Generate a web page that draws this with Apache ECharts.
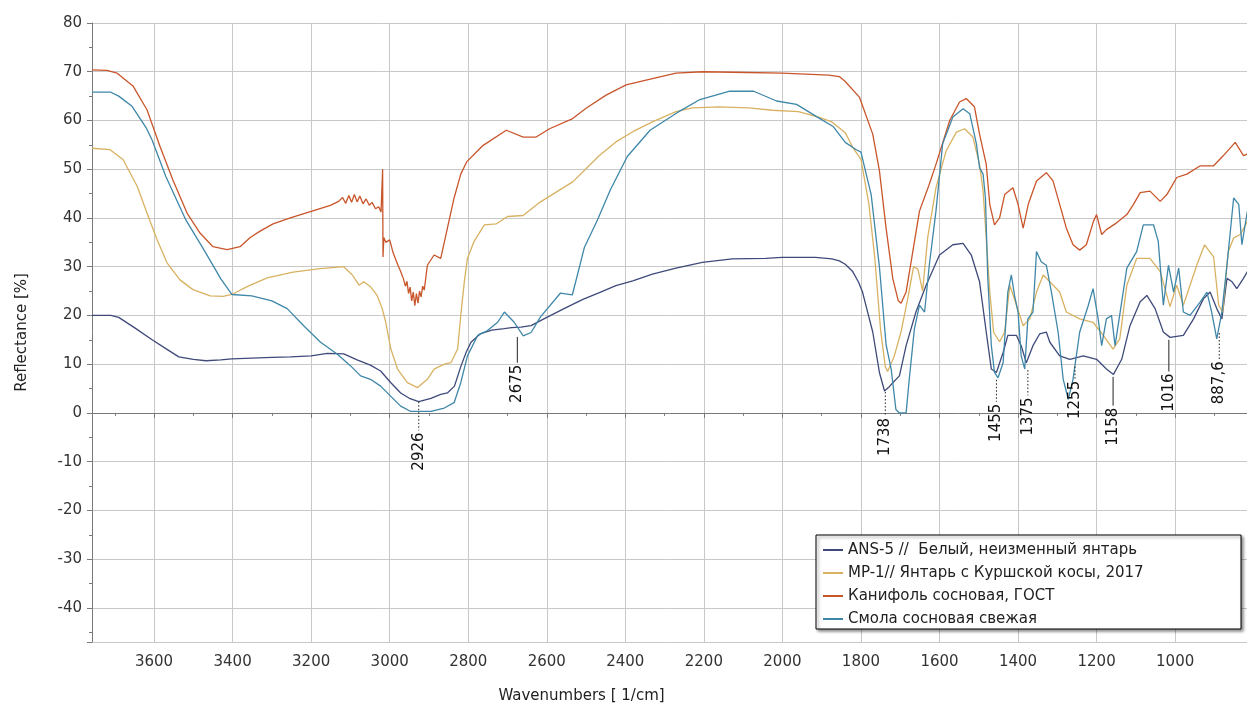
<!DOCTYPE html>
<html>
<head>
<meta charset="utf-8">
<script src="https://cdn.jsdelivr.net/npm/echarts@6/dist/echarts.min.js"></script>
<style>
  html, body { margin: 0; padding: 0; background: #fff; }
  #chart { width: 1247px; height: 709px; }
</style>
</head>
<body>
<div id="chart"></div>
<script>
// ANS-5 // Белый, неизменный янтарь
var ansWave = [3758, 3710, 3690, 3650, 3605, 3570, 3537, 3500, 3468, 3430, 3402, 3300, 3253, 3200, 3159, 3117, 3083, 3049, 3023, 2997, 2972, 2950, 2926, 2895, 2870, 2853, 2835, 2819, 2805, 2793, 2770, 2740, 2708, 2690, 2666, 2640, 2600, 2551, 2508, 2466, 2424, 2381, 2331, 2271, 2204, 2128, 2043, 2001, 1916, 1874, 1855, 1840, 1821, 1806, 1796, 1770, 1753, 1740, 1730, 1719, 1702, 1685, 1660, 1634, 1600, 1566, 1540, 1519, 1498, 1481, 1468, 1455, 1438, 1426, 1404, 1392, 1379, 1362, 1345, 1328, 1319, 1294, 1268, 1234, 1200, 1175, 1157, 1136, 1115, 1089, 1072, 1051, 1030, 1013, 979, 953, 928, 911, 894, 881, 868, 855, 843, 826, 816];
var ansVal = [20.0, 20.0, 19.6, 17.5, 15.0, 13.2, 11.5, 11.0, 10.7, 10.9, 11.1, 11.4, 11.5, 11.7, 12.2, 12.1, 10.9, 9.8, 8.6, 6.2, 4.1, 3.0, 2.3, 3.0, 3.8, 4.1, 5.5, 9.5, 12.5, 14.5, 16.2, 17.0, 17.3, 17.5, 17.6, 17.9, 19.6, 21.6, 23.3, 24.7, 26.1, 27.1, 28.5, 29.7, 30.9, 31.6, 31.7, 31.9, 31.9, 31.6, 31.2, 30.5, 29.0, 26.8, 24.8, 16.6, 8.3, 4.5, 5.2, 6.2, 7.6, 13.8, 20.7, 26.2, 32.4, 34.5, 34.8, 32.4, 26.9, 16.6, 9.0, 8.3, 12.4, 15.9, 15.9, 13.8, 10.3, 13.8, 16.2, 16.6, 14.5, 11.7, 11.0, 11.7, 11.0, 9.0, 7.9, 11.0, 17.9, 22.8, 24.1, 21.4, 16.6, 15.5, 15.9, 19.3, 23.4, 24.8, 21.4, 19.3, 27.6, 26.9, 25.5, 27.6, 29.0];

// MP-1 // Янтарь с Куршской косы, 2017
var mpWave = [3758, 3712, 3679, 3643, 3618, 3592, 3567, 3534, 3501, 3457, 3424, 3402, 3363, 3312, 3246, 3177, 3117, 3095, 3078, 3066, 3049, 3032, 3019, 3010, 2997, 2980, 2955, 2929, 2904, 2887, 2861, 2844, 2827, 2819, 2810, 2802, 2785, 2759, 2728, 2700, 2660, 2618, 2576, 2534, 2500, 2466, 2424, 2381, 2331, 2271, 2229, 2162, 2085, 2026, 1959, 1908, 1874, 1840, 1821, 1800, 1780, 1765, 1750, 1738, 1732, 1715, 1698, 1681, 1666, 1655, 1643, 1630, 1609, 1583, 1557, 1536, 1515, 1498, 1489, 1481, 1472, 1462, 1447, 1434, 1421, 1404, 1387, 1370, 1353, 1336, 1319, 1294, 1277, 1243, 1209, 1183, 1158, 1141, 1123, 1098, 1064, 1038, 1013, 996, 979, 962, 945, 925, 902, 889, 879, 865, 851, 834, 816];
var mpVal = [54.3, 54.0, 52.0, 46.5, 41.0, 35.5, 30.8, 27.3, 25.3, 24.0, 23.9, 24.3, 25.9, 27.7, 28.9, 29.6, 30.0, 28.3, 26.2, 26.9, 25.9, 24.1, 21.4, 18.6, 13.1, 9.0, 6.2, 5.2, 6.9, 9.0, 10.0, 10.3, 13.1, 20.0, 26.9, 31.7, 35.2, 38.6, 38.8, 40.3, 40.5, 43.2, 45.3, 47.4, 50.1, 52.8, 55.6, 57.7, 59.7, 61.8, 62.6, 62.8, 62.6, 62.1, 61.8, 60.7, 59.7, 57.5, 54.5, 52.0, 43.0, 32.0, 17.0, 9.5, 8.5, 11.7, 16.6, 23.4, 30.0, 29.5, 25.0, 36.0, 46.2, 53.8, 57.6, 58.3, 56.6, 51.0, 45.5, 35.9, 24.8, 16.5, 14.6, 16.6, 26.2, 22.1, 17.9, 19.3, 24.8, 28.3, 26.9, 24.8, 20.7, 19.3, 18.6, 15.9, 13.1, 15.2, 26.2, 31.7, 31.7, 29.0, 21.8, 26.2, 22.1, 26.2, 30.3, 34.5, 32.0, 22.1, 20.7, 33.0, 35.9, 36.6, 39.3];

// Канифоль сосновая, ГОСТ
var kanWave = [3758, 3720, 3694, 3653, 3618, 3585, 3552, 3516, 3483, 3450, 3414, 3381, 3355, 3330, 3297, 3253, 3202, 3151, 3130, 3120, 3112, 3104, 3097, 3090, 3083, 3076, 3068, 3060, 3052, 3045, 3036, 3028, 3022, 3019, 3018, 3017, 3015, 3010, 3000, 2991, 2980, 2972, 2965, 2960, 2956, 2952, 2948, 2944, 2940, 2936, 2932, 2928, 2924, 2920, 2916, 2912, 2904, 2887, 2870, 2853, 2836, 2819, 2804, 2776, 2762, 2703, 2660, 2627, 2593, 2534, 2500, 2449, 2398, 2331, 2271, 2204, 2128, 2001, 1882, 1855, 1840, 1804, 1770, 1753, 1736, 1719, 1705, 1698, 1685, 1668, 1651, 1626, 1609, 1574, 1549, 1532, 1511, 1498, 1481, 1472, 1460, 1447, 1434, 1413, 1400, 1387, 1374, 1353, 1328, 1311, 1294, 1277, 1260, 1243, 1226, 1208, 1200, 1187, 1175, 1149, 1123, 1106, 1089, 1064, 1038, 1021, 996, 970, 936, 902, 877, 847, 826, 816];
var kanVal = [70.4, 70.3, 69.7, 67.0, 62.2, 54.7, 47.8, 41.0, 36.9, 34.1, 33.5, 34.1, 36.0, 37.3, 38.8, 40.0, 41.3, 42.6, 43.4, 44.2, 43.0, 44.6, 43.2, 44.8, 43.3, 44.5, 42.9, 43.9, 42.6, 43.2, 41.9, 42.3, 41.2, 41.0, 50.0, 32.0, 36.0, 35.0, 35.5, 32.8, 30.5, 29.0, 27.5, 26.0, 27.0, 24.5, 25.8, 23.0, 24.8, 22.0, 24.5, 22.5, 25.0, 23.8, 26.0, 25.2, 30.3, 32.4, 31.7, 37.9, 44.1, 49.0, 51.5, 53.8, 54.9, 58.0, 56.6, 56.6, 58.3, 60.4, 62.5, 65.2, 67.3, 68.6, 69.7, 70.0, 69.9, 69.7, 69.3, 69.0, 68.0, 64.8, 57.2, 49.7, 37.9, 27.6, 23.0, 22.5, 24.8, 33.1, 41.4, 46.9, 51.0, 60.0, 63.8, 64.5, 62.8, 57.2, 51.0, 42.8, 38.6, 40.0, 44.8, 46.2, 42.8, 37.9, 42.8, 47.6, 49.3, 47.6, 42.8, 37.9, 34.5, 33.4, 34.5, 39.3, 40.7, 36.6, 37.6, 39.0, 40.7, 42.8, 45.2, 45.5, 43.4, 44.8, 48.3, 49.0, 50.7, 50.7, 52.8, 55.5, 52.8, 53.1];

// Смола сосновая свежая
var smWave = [3758, 3710, 3690, 3656, 3620, 3605, 3570, 3519, 3468, 3430, 3402, 3351, 3300, 3261, 3219, 3176, 3134, 3100, 3074, 3049, 3023, 2997, 2972, 2946, 2895, 2861, 2836, 2819, 2802, 2776, 2751, 2725, 2708, 2683, 2660, 2640, 2616, 2565, 2535, 2504, 2471, 2438, 2395, 2337, 2268, 2210, 2134, 2073, 2015, 1964, 1913, 1870, 1840, 1812, 1800, 1774, 1753, 1736, 1723, 1711, 1702, 1685, 1677, 1664, 1651, 1638, 1626, 1609, 1592, 1566, 1540, 1523, 1506, 1498, 1489, 1483, 1477, 1468, 1460, 1451, 1438, 1426, 1417, 1409, 1400, 1392, 1383, 1375, 1362, 1353, 1341, 1328, 1315, 1298, 1285, 1272, 1260, 1243, 1221, 1209, 1196, 1187, 1175, 1162, 1153, 1140, 1123, 1098, 1081, 1055, 1043, 1030, 1017, 1004, 991, 979, 962, 936, 919, 907, 894, 881, 868, 851, 838, 830, 816];
var smVal = [65.8, 65.8, 65.0, 62.9, 58.5, 56.0, 48.5, 39.6, 32.8, 27.5, 24.3, 24.0, 23.0, 21.4, 17.9, 14.5, 12.1, 9.7, 7.6, 6.9, 5.5, 3.4, 1.4, 0.3, 0.3, 1.0, 2.1, 6.2, 11.7, 15.9, 16.9, 18.6, 20.7, 18.6, 15.8, 16.5, 19.7, 24.6, 24.2, 34.0, 39.6, 45.8, 52.6, 58.0, 61.6, 64.3, 66.0, 66.0, 64.0, 63.3, 60.8, 58.7, 55.5, 54.0, 53.5, 44.8, 30.0, 14.0, 9.0, 0.7, 0.0, 0.0, 6.9, 17.2, 22.1, 20.7, 30.3, 41.4, 55.2, 60.7, 62.4, 61.4, 55.2, 50.3, 49.0, 44.1, 27.6, 13.8, 8.3, 7.2, 10.3, 24.8, 28.3, 24.1, 20.7, 11.7, 9.0, 19.3, 20.7, 33.1, 31.0, 30.3, 24.8, 16.6, 6.9, 2.8, 6.9, 16.6, 22.1, 25.5, 19.3, 13.8, 19.3, 20.0, 13.8, 20.7, 29.7, 33.1, 38.6, 38.6, 35.2, 22.1, 30.3, 24.8, 29.7, 20.7, 20.0, 22.8, 24.8, 20.7, 15.2, 20.7, 30.3, 44.1, 42.8, 34.5, 41.4];

// peak annotations: wavenumber, leader start (on curve), leader end (top of label)
var annWave = [2926, 2675, 1738, 1455, 1375, 1255, 1158, 1016, 887.6];
var annFrom = [2.3, 15.6, 4.3, 6.8, 8.8, 9.5, 7.4, 15.0, 16.4];
var annTo = [-3.6, 10.3, -0.6, 2.3, 3.6, 7.0, 1.5, 8.5, 11.0];
var annText = ['2926', '2675', '1738', '1455', '1375', '1255', '1158', '1016', '887,6'];
var annDotted = [1, 0, 1, 1, 1, 1, 0, 0, 1];

var seriesNames = [
  'ANS-5 //  Белый, неизменный янтарь',
  'MP-1// Янтарь с Куршской косы, 2017',
  'Канифоль сосновая, ГОСТ',
  'Смола сосновая свежая'
];
var seriesColors = ['#3f4a7a', '#d8b262', '#c9552b', '#3f87a8'];

function zip(a, b) {
  return a.map(function (v, i) { return [v, b[i]]; });
}

var FONT = 'DejaVu Sans';
var myChart = echarts.init(document.getElementById('chart'));

var lineData = [zip(ansWave, ansVal), zip(mpWave, mpVal), zip(kanWave, kanVal), zip(smWave, smVal)];
var series = lineData.map(function (d, i) {
  return {
    name: seriesNames[i],
    type: 'line',
    data: d,
    symbol: 'none',
    lineStyle: { width: 1.3, color: seriesColors[i] },
    itemStyle: { color: seriesColors[i] },
    z: 2
  };
});

// подписи пиков
series.push({
  type: 'custom',
  z: 5,
  silent: true,
  data: annWave.map(function (w, i) { return [w, annFrom[i], annTo[i], annDotted[i]]; }),
  renderItem: function (params, api) {
    var p1 = api.coord([api.value(0), api.value(1)]);
    var p2 = api.coord([api.value(0), api.value(2)]);
    return {
      type: 'group',
      children: [
        {
          type: 'line',
          shape: { x1: p1[0], y1: p1[1], x2: p2[0], y2: p2[1] },
          style: { stroke: '#222', lineWidth: 1, lineDash: api.value(3) ? [1.5, 2] : null }
        },
        {
          type: 'text',
          x: p2[0],
          y: p2[1] + 2,
          rotation: Math.PI / 2,
          style: {
            text: annText[params.dataIndex],
            align: 'right',
            verticalAlign: 'middle',
            fill: '#111',
            font: '15px "' + FONT + '"'
          }
        }
      ]
    };
  }
});

var option = {
  animation: false,
  textStyle: { fontFamily: FONT },
  grid: { left: 92, right: 0, top: 23, bottom: 67 },
  legend: {
    data: seriesNames,
    orient: 'vertical',
    left: 816,
    top: 535,
    padding: [7, 10, 2, 7],
    itemGap: 7,
    itemWidth: 20,
    itemHeight: 2,
    icon: 'rect',
    backgroundColor: '#fff',
    borderColor: '#000',
    borderWidth: 1,
    shadowColor: 'rgba(0,0,0,0.45)',
    shadowBlur: 3,
    shadowOffsetX: 2,
    shadowOffsetY: 2,
    textStyle: { fontSize: 15, color: '#222', lineHeight: 16, width: 383, fontFamily: FONT }
  },
  xAxis: {
    type: 'value',
    inverse: true,
    min: 817,
    max: 3758,
    splitNumber: 15,
    name: 'Wavenumbers [ 1/cm]',
    nameLocation: 'middle',
    nameGap: 47,
    nameTextStyle: { fontSize: 15, color: '#222', padding: [0, 176, 0, 0] },
    axisLine: { lineStyle: { color: '#7a7a7a' } },
    axisTick: { show: true, length: 5, lineStyle: { color: '#7a7a7a' } },
    minorTick: { show: true, splitNumber: 2, length: 3, lineStyle: { color: '#7a7a7a' } },
    axisLabel: {
      fontSize: 15, color: '#333', margin: 13, showMinLabel: false, showMaxLabel: false,
      formatter: function (v) { return String(v); }
    },
    splitLine: { show: true, lineStyle: { color: '#c8c8c8', width: 1 } }
  },
  yAxis: {
    type: 'value',
    min: -47,
    max: 80,
    splitNumber: 13,
    name: 'Reflectance [%]',
    nameLocation: 'middle',
    nameGap: 62,
    nameTextStyle: { fontSize: 15, color: '#222' },
    axisLine: { show: true, lineStyle: { color: '#7a7a7a' } },
    axisTick: { show: true, length: 5, lineStyle: { color: '#7a7a7a' } },
    minorTick: { show: true, splitNumber: 2, length: 3, lineStyle: { color: '#7a7a7a' } },
    axisLabel: {
      fontSize: 15, color: '#333', margin: 10, showMinLabel: false,
      formatter: function (v) { return String(v); }
    },
    splitLine: { show: true, lineStyle: { color: '#c8c8c8', width: 1 } }
  },
  series: series
};

option && myChart.setOption(option);
window.addEventListener('resize', function () {
  myChart.resize();
});
</script>
</body>
</html>
